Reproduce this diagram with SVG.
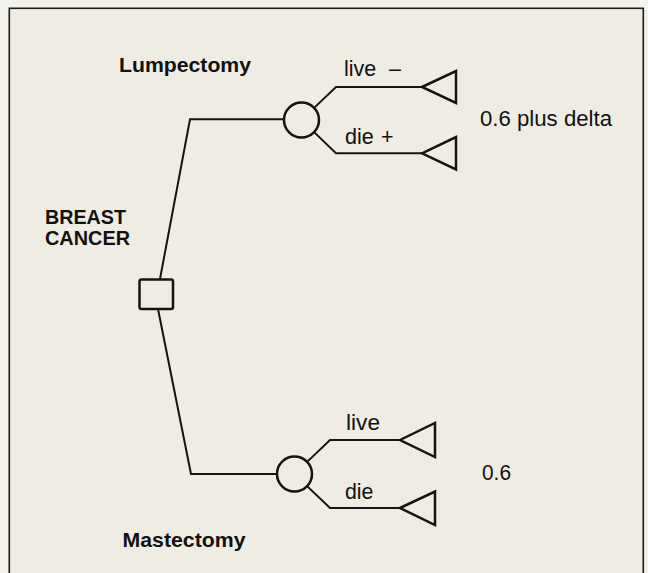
<svg xmlns="http://www.w3.org/2000/svg" width="648" height="573" viewBox="0 0 648 573">
  <style>
    .bg { fill: #f3f2ec; }
    .panel { fill: #efece3; stroke: #1a1a1a; stroke-width: 1.6; }
    .conn { fill: none; stroke: #141414; stroke-width: 2; stroke-linejoin: miter; }
    .shape { fill: none; stroke: #141414; stroke-width: 2.5; stroke-linejoin: miter; }
    .bold { font-family: "Liberation Sans", Arial, Helvetica, sans-serif; font-weight: bold; font-size: 20px; fill: #111; }
    .lbl { font-family: "Liberation Sans", Arial, Helvetica, sans-serif; font-size: 21.5px; fill: #111; }
    .val { font-family: "Liberation Sans", Arial, Helvetica, sans-serif; font-size: 21.5px; fill: #111; }
  </style>
  <rect class="bg" x="0" y="0" width="648" height="573"/>
  <rect class="panel" x="9.3" y="8.3" width="634" height="580"/>

  <g id="connectors">
    <polyline class="conn" points="160,279 190,119.3 284,119.3"/>
    <polyline class="conn" points="158,309 191,474 277,474"/>
    <polyline class="conn" points="313.6,108.4 336,87 422,87"/>
    <polyline class="conn" points="313.6,131.6 336,153.3 422,153.3"/>
    <polyline class="conn" points="306.6,462.4 330,440 400,440"/>
    <polyline class="conn" points="306.6,485.6 330,508 400,508"/>
  </g>

  <g id="decision-breast-cancer">
    <rect class="shape" x="139.5" y="279.5" width="33.5" height="29.5" rx="2"/>
    <text class="bold" x="45" y="223.5" textLength="81" lengthAdjust="spacingAndGlyphs">BREAST</text>
    <text class="bold" x="45" y="245" textLength="85" lengthAdjust="spacingAndGlyphs">CANCER</text>
  </g>

  <g id="chance-lumpectomy">
    <circle class="shape" cx="301.5" cy="120" r="17.5"/>
    <text class="bold" x="119" y="72" textLength="132" lengthAdjust="spacingAndGlyphs">Lumpectomy</text>
  </g>

  <g id="chance-mastectomy">
    <circle class="shape" cx="294.5" cy="474" r="17.5"/>
    <text class="bold" x="122.5" y="547" textLength="123" lengthAdjust="spacingAndGlyphs">Mastectomy</text>
  </g>

  <g id="outcome-lump-live">
    <polygon class="shape" points="422,87 456,71 456,103"/>
    <text class="lbl" x="344" y="76">live <tspan x="389">–</tspan></text>
  </g>
  <g id="outcome-lump-die">
    <polygon class="shape" points="422,153.3 456,137 456,169.5"/>
    <text class="lbl" x="345" y="144">die <tspan x="381">+</tspan></text>
  </g>
  <g id="value-lump">
    <text class="val" x="480" y="126" textLength="132" lengthAdjust="spacingAndGlyphs">0.6 plus delta</text>
  </g>

  <g id="outcome-mast-live">
    <polygon class="shape" points="400,440 435,423 435,457"/>
    <text class="lbl" x="346" y="430" textLength="34" lengthAdjust="spacingAndGlyphs">live</text>
  </g>
  <g id="outcome-mast-die">
    <polygon class="shape" points="400,508 435,491.5 435,525"/>
    <text class="lbl" x="345" y="498.5" textLength="28.5" lengthAdjust="spacingAndGlyphs">die</text>
  </g>
  <g id="value-mast">
    <text class="val" x="482" y="480" textLength="29" lengthAdjust="spacingAndGlyphs">0.6</text>
  </g>
</svg>
